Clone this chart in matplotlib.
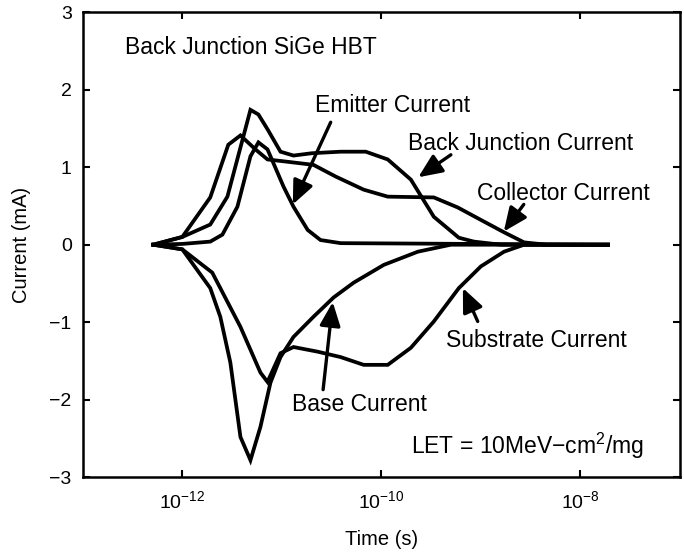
import matplotlib
matplotlib.use("Agg")
import matplotlib.pyplot as plt
from matplotlib.ticker import FixedLocator, NullLocator, LogFormatterMathtext

plt.rcParams['font.family'] = ['Liberation Sans', 'DejaVu Sans']
plt.rcParams['mathtext.fontset'] = 'custom'
plt.rcParams['mathtext.rm'] = 'Liberation Sans'
plt.rcParams['mathtext.it'] = 'Liberation Sans'

# time (s) and current (mA)
collector_t = [5.1e-13, 1e-12, 1.91e-12, 2.9e-12, 3.84e-12, 5.43e-12, 7.18e-12, 1.14e-11,
               2.08e-11, 3.47e-11, 6.65e-11, 1.16e-10, 3.37e-10, 5.87e-10, 1.0e-9,
               1.71e-9, 2.72e-9, 4.53e-9, 1.9e-8]
collector_i = [0, 0.10, 0.61, 1.29, 1.41, 1.23, 1.10, 1.07, 1.03, 0.88, 0.71, 0.62, 0.61,
               0.48, 0.32, 0.16, 0.03, 0, 0]

backjct_t = [5.1e-13, 1e-12, 1.91e-12, 2.84e-12, 4.84e-12, 5.82e-12, 7.18e-12, 9.7e-12,
             1.31e-11, 2.0e-11, 3.9e-11, 6.97e-11, 1.16e-10, 1.98e-10, 3.37e-10, 6.01e-10,
             8.51e-10, 1.59e-9, 1.9e-8]
backjct_i = [0, 0.10, 0.26, 0.62, 1.74, 1.68, 1.49, 1.20, 1.15, 1.18, 1.20, 1.20, 1.10,
             0.84, 0.36, 0.09, 0.04, 0, 0]

emitter_t = [5.1e-13, 1e-12, 1.91e-12, 2.53e-12, 3.58e-12, 4.84e-12, 5.82e-12, 7.18e-12,
             1.04e-11, 1.31e-11, 1.82e-11, 2.45e-11, 3.9e-11, 1.9e-8]
emitter_i = [0, 0.01, 0.04, 0.13, 0.49, 1.14, 1.32, 1.23, 0.75, 0.49, 0.19, 0.06, 0.02, 0]

base_t = [5.1e-13, 1e-12, 1.91e-12, 2.41e-12, 3.04e-12, 3.84e-12, 4.84e-12, 6.10e-12,
          7.69e-12, 9.7e-12, 1.31e-11, 2.08e-11, 3.32e-11, 5.27e-11, 1.06e-10, 2.33e-10,
          5.0e-10, 1.9e-8]
base_i = [0, -0.06, -0.56, -0.93, -1.52, -2.48, -2.78, -2.35, -1.78, -1.45, -1.19, -0.93,
          -0.68, -0.49, -0.26, -0.09, 0, 0]

substrate_t = [5.1e-13, 1e-12, 2.0e-12, 3.84e-12, 6.10e-12, 7.18e-12, 9.7e-12, 1.31e-11,
               2.29e-11, 3.9e-11, 6.65e-11, 1.16e-10, 1.98e-10, 3.37e-10, 6.01e-10, 1.0e-9,
               1.71e-9, 2.72e-9, 1.9e-8]
substrate_i = [0, -0.06, -0.36, -1.06, -1.65, -1.77, -1.40, -1.32, -1.38, -1.45, -1.55,
               -1.55, -1.33, -0.99, -0.56, -0.28, -0.09, 0, 0]

x_ticks = [1e-12, 1e-10, 1e-8]
y_ticks = [-3, -2, -1, 0, 1, 2, 3]

fig = plt.figure(figsize=(6.84, 5.53), dpi=100)
ax = fig.add_axes([0.121, 0.137, 0.873, 0.841])

for t, i in [(collector_t, collector_i), (backjct_t, backjct_i), (emitter_t, emitter_i),
             (base_t, base_i), (substrate_t, substrate_i)]:
    ax.plot(t, i, color='black', lw=2.7, solid_joinstyle='miter')

ax.set_xscale('log')
ax.set_xlim(1e-13, 1e-7)
ax.set_ylim(-3, 3)
ax.xaxis.set_major_locator(FixedLocator(x_ticks))
ax.xaxis.set_major_formatter(LogFormatterMathtext())
ax.xaxis.set_minor_locator(NullLocator())
ax.yaxis.set_major_locator(FixedLocator(y_ticks))
ax.tick_params(direction='in', top=True, right=True, length=5, width=1.5,
               labelsize=14)
ax.tick_params(axis='x', pad=9)
ax.tick_params(axis='y', pad=8)
for sp in ax.spines.values():
    sp.set_linewidth(1.8)

ax.set_xlabel('Time (s)', fontsize=14.5)
ax.set_ylabel('Current (mA)', fontsize=14.5)
ax.xaxis.set_label_coords(0.5, -0.113)
ax.yaxis.set_label_coords(-0.087, 0.5)

ax.text(0.070, 0.925, 'Back Junction SiGe HBT', transform=ax.transAxes, fontsize=16.5, va='center')
ax.text(0.549, 0.067, 'LET = 10MeV\u2212cm$^2$/mg', transform=ax.transAxes, fontsize=16.5, va='center')

# (label, text pos, arrow tail, arrow tip) - arrows in data coords
notes = [
    ('Emitter Current', (0.389, 0.800), (3.1e-11, 1.58), (1.29e-11, 0.52)),
    ('Back Junction Current', (0.544, 0.718), (5.0e-10, 1.16), (2.35e-10, 0.87)),
    ('Collector Current', (0.660, 0.611), (2.7e-9, 0.52), (1.7e-9, 0.17)),
    ('Substrate Current', (0.608, 0.295), (9.3e-10, -0.99), (6.6e-10, -0.56)),
    ('Base Current', (0.350, 0.157), (2.6e-11, -1.87), (3.25e-11, -0.74)),
]
for label, pos, tail, tip in notes:
    ax.text(pos[0], pos[1], label, transform=ax.transAxes, fontsize=16.5, va='center')
    ax.annotate('', xy=tip, xytext=tail,
                arrowprops=dict(arrowstyle='-|>,head_length=0.8,head_width=0.35',
                                color='black', lw=2.4, shrinkA=0, shrinkB=0,
                                mutation_scale=18))

fig.savefig('out.png', dpi=100)
